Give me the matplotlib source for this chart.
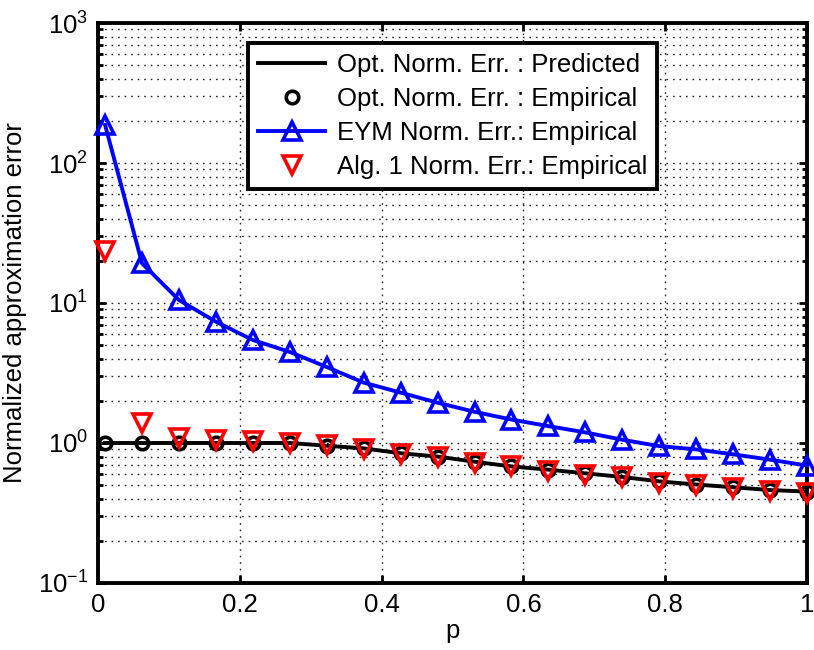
import numpy as np
import matplotlib
matplotlib.use("Agg")
import matplotlib.pyplot as plt
from matplotlib.ticker import LogLocator, NullFormatter

plt.rcParams['font.family'] = ['Liberation Sans', 'DejaVu Sans']
plt.rcParams['mathtext.fontset'] = 'custom'
plt.rcParams['mathtext.rm'] = 'Liberation Sans'

p = [0.01, 0.0621, 0.1142, 0.1663, 0.2184, 0.2705, 0.3226, 0.3747, 0.4268, 0.4789,
     0.5311, 0.5832, 0.6353, 0.6874, 0.7395, 0.7916, 0.8437, 0.8958, 0.9479, 1.0]
opt_pred = [1.0, 1.0, 1.0, 1.0, 1.0, 1.0, 0.956, 0.915, 0.845, 0.80,
            0.735, 0.68, 0.645, 0.607, 0.572, 0.532, 0.505, 0.483, 0.461, 0.45]
opt_emp = opt_pred
eym_emp = [187, 19.2, 10.5, 7.35, 5.44, 4.47, 3.49, 2.7, 2.29, 1.94,
           1.67, 1.47, 1.32, 1.19, 1.055, 0.95, 0.90, 0.83, 0.76, 0.69]
alg1_emp = [23.5, 1.38, 1.09, 1.05, 1.03, 1.0, 0.97, 0.90, 0.835, 0.79,
            0.72, 0.685, 0.634, 0.59, 0.57, 0.515, 0.50, 0.475, 0.454, 0.44]

labels = ["Opt. Norm. Err. : Predicted", "Opt. Norm. Err. : Empirical",
          "EYM Norm. Err.: Empirical", "Alg. 1 Norm. Err.: Empirical"]

fig = plt.figure(figsize=(8.14, 6.5), dpi=100)
ax = fig.add_axes([0.1204, 0.1031, 0.8710, 0.8615])

fs = 18.5
lw = 2.8
l1, = ax.plot(p, opt_pred, '-', color='k', lw=lw, label=labels[0], zorder=3)
l2, = ax.plot(p, opt_emp, 'o', color='k', mfc='none', mew=2.6, ms=9, ls='none',
              label=labels[1], zorder=4, clip_on=False)
l3, = ax.plot(p, eym_emp, '-^', color='b', lw=lw, mfc='none', mew=2.6, ms=12.5,
              label=labels[2], zorder=5, clip_on=False)
l4, = ax.plot(p, alg1_emp, 'v', color='r', mfc='none', mew=2.6, ms=12.5, ls='none',
              label=labels[3], zorder=6, clip_on=False)

ax.set_yscale('log')
ax.set_xlim(0, 1)
ax.set_ylim(0.1, 1000)
ax.set_xticks([0, 0.2, 0.4, 0.6, 0.8, 1])
ax.set_xticklabels(['0', '0.2', '0.4', '0.6', '0.8', '1'])
ax.yaxis.set_major_locator(LogLocator(base=10, numticks=10))
ax.yaxis.set_minor_locator(LogLocator(base=10, subs=np.arange(2, 10), numticks=100))
ax.yaxis.set_minor_formatter(NullFormatter())

grid_kw = dict(ls=(0, (1.2, 3.5)), color='0.15', lw=1.0)
ax.grid(which='major', **grid_kw)
ax.grid(which='minor', axis='y', **grid_kw)
ax.set_axisbelow(True)

ax.tick_params(which='both', direction='in', top=True, right=True, labelsize=fs, width=2.0)
ax.tick_params(which='major', length=6, pad=7)
ax.tick_params(which='minor', length=3.5)
for s in ax.spines.values():
    s.set_linewidth(2.8)

ax.set_xlabel('p', fontsize=fs, labelpad=2)
ax.set_ylabel('Normalized approximation error', fontsize=fs, labelpad=8)

leg = ax.legend(handles=[l1, l2, l3, l4], loc='upper left', bbox_to_anchor=(0.2116, 0.964),
                borderaxespad=0, fontsize=fs, frameon=True, fancybox=False,
                handlelength=2.6, handletextpad=0.45, labelspacing=0.38, borderpad=0.4)
leg.get_frame().set_edgecolor('k')
leg.get_frame().set_linewidth(2.8)
leg.get_frame().set_alpha(1)
leg.set_zorder(10)

fig.savefig('out.png', dpi=100)
